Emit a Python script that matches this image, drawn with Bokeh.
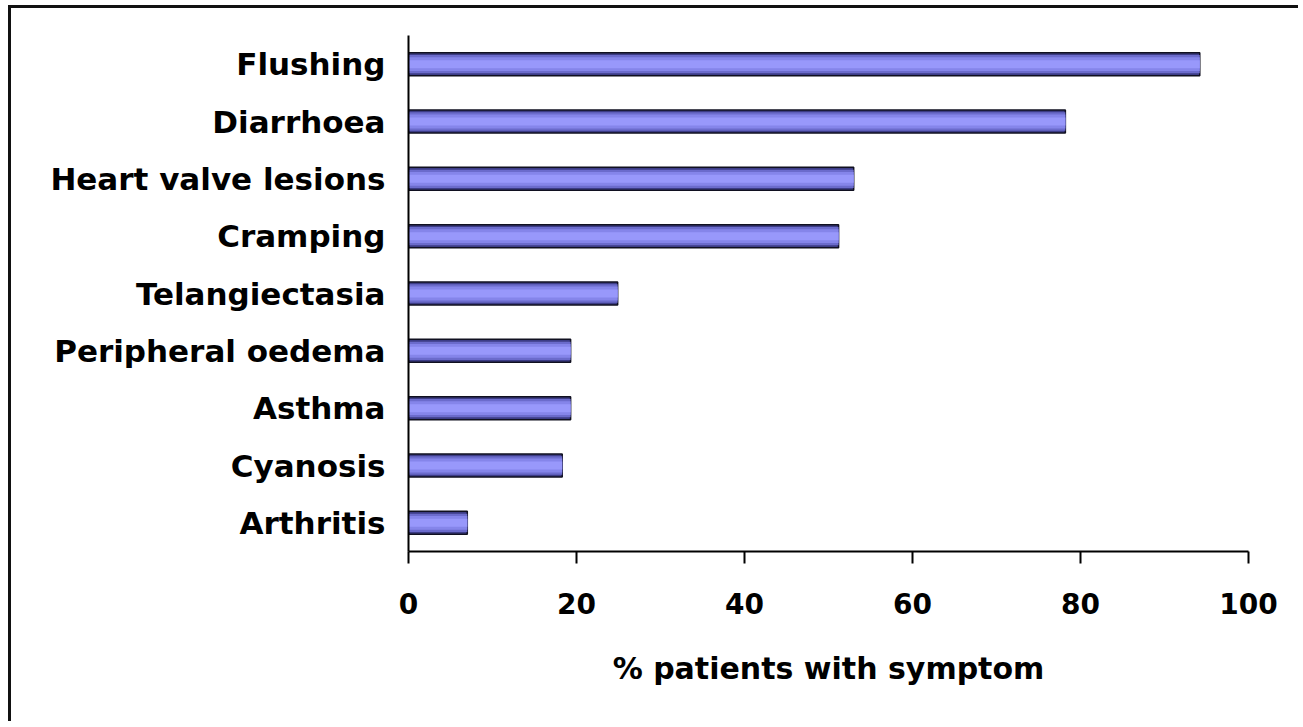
from bokeh.plotting import figure
from bokeh.models import FactorRange, Range1d, FixedTicker
from bokeh.embed import file_html
from bokeh.resources import INLINE

symptoms = ["Flushing", "Diarrhoea", "Heart valve lesions", "Cramping",
            "Telangiectasia", "Peripheral oedema", "Asthma", "Cyanosis", "Arthritis"]
percent = [94.2, 78.2, 53.0, 51.2, 24.9, 19.3, 19.3, 18.3, 7.0]
x_ticks = [0, 20, 40, 60, 80, 100]
x_title = "% patients with symptom"

order = list(reversed(symptoms))

p = figure(width=1290, height=716, output_backend="svg", toolbar_location=None,
           y_range=FactorRange(factors=order, range_padding=0),
           x_range=Range1d(0, 100),
           min_border_left=397, min_border_right=53, min_border_top=27, min_border_bottom=173)
p.styles = {"border-left": "3px solid #111", "border-top": "3px solid #111",
            "margin-left": "8px", "margin-top": "5px"}
p.outline_line_color = None
p.background_fill_color = "white"
p.border_fill_color = "white"
p.xgrid.visible = False
p.ygrid.visible = False

# layered bars to mimic the shaded 3D look
p.hbar(y=symptoms, right=percent, left=0, height=0.40, fill_color="#3c3c86",
       line_color="#101020", line_width=1.5)
p.hbar(y=symptoms, right=percent, left=0, height=0.32, fill_color="#6b6bcc", line_color=None)
p.hbar(y=symptoms, right=percent, left=0, height=0.24, fill_color="#8585ea", line_color=None)
p.hbar(y=symptoms, right=percent, left=0, height=0.14, fill_color="#9898fb", line_color=None)

font = "DejaVu Sans"

xa = p.xaxis[0]
xa.ticker = FixedTicker(ticks=x_ticks)
xa.axis_line_color = "black"
xa.axis_line_width = 2
xa.major_tick_line_color = "black"
xa.major_tick_line_width = 2
xa.major_tick_out = 12
xa.major_tick_in = 0
xa.minor_tick_line_color = None
xa.major_label_text_font = font
xa.major_label_text_font_style = "bold"
xa.major_label_text_font_size = "28px"
xa.major_label_text_color = "black"
xa.major_label_standoff = 29
xa.axis_label = x_title
xa.axis_label_text_font = font
xa.axis_label_text_font_style = "bold"
xa.axis_label_text_font_size = "30px"
xa.axis_label_text_color = "black"
xa.axis_label_standoff = 34

ya = p.yaxis[0]
ya.axis_line_color = "black"
ya.axis_line_width = 2
ya.major_tick_line_color = None
ya.minor_tick_line_color = None
ya.major_tick_out = 0
ya.major_label_standoff = 23
ya.major_label_text_font = font
ya.major_label_text_font_style = "bold"
ya.major_label_text_font_size = "31px"
ya.major_label_text_color = "black"

open("out.html", "w").write(file_html(p, INLINE))
